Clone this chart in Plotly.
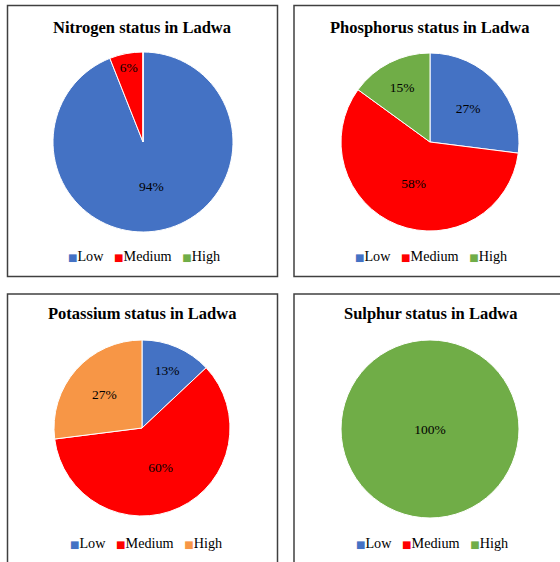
import plotly.graph_objects as go

categories = ["Low", "Medium", "High"]
nitrogen = [94, 6, 0]
phosphorus = [27, 58, 15]
potassium = [13, 60, 27]
sulphur = [0, 0, 100]
titles = ["Nitrogen status in Ladwa", "Phosphorus status in Ladwa",
          "Potassium status in Ladwa", "Sulphur status in Ladwa"]

W, H = 560, 562
BLUE, RED, GREEN, ORANGE = "#4472C4", "#FF0000", "#70AD47", "#F79646"
palettes = [[BLUE, RED, GREEN], [BLUE, RED, GREEN], [BLUE, RED, ORANGE], [BLUE, RED, GREEN]]
series = [nitrogen, phosphorus, potassium, sulphur]

# layout (pixels, top-left origin)
panels = [(7.5, 5.5, 277.5, 276.5), (294, 5.5, 575, 276.5), (7.5, 294, 277.5, 575), (294, 294, 575, 575)]
pies = [(143, 142, 90), (430, 142, 89), (142, 428, 88), (430, 429, 89)]
title_pos = [(142, 28), (429, 27), (142, 313), (430, 313)]
legend_pos = [(144, 256), (431, 256), (146, 543), (432, 543)]

px = lambda x: x / W
py = lambda y: 1 - y / H

FONT = "Liberation Serif"
fig = go.Figure()
shapes, annotations = [], []
for i in range(4):
    cx, cy, r = pies[i]
    fig.add_trace(go.Pie(
        labels=categories, values=series[i], sort=False, direction="clockwise", rotation=0,
        marker=dict(colors=palettes[i], line=dict(color="white", width=1)),
        textinfo="percent", textposition="inside", insidetextorientation="horizontal",
        textfont=dict(family=FONT, size=13.5, color="black"),
        domain=dict(x=[px(cx - r), px(cx + r)], y=[py(cy + r), py(cy - r)]),
        showlegend=False,
    ))
    x0, y0, x1, y1 = panels[i]
    shapes.append(dict(type="rect", xref="paper", yref="paper", x0=px(x0), x1=px(x1),
                       y0=py(y1), y1=py(y0), line=dict(color="#404040", width=1.5)))
    tx, ty = title_pos[i]
    annotations.append(dict(text=f"<b>{titles[i]}</b>", x=px(tx), y=py(ty), xref="paper", yref="paper",
                            showarrow=False, xanchor="center", yanchor="middle",
                            font=dict(family=FONT, size=16.5, color="black")))
    # legend row
    parts = []
    for lab, col in zip(categories, palettes[i]):
        parts.append(f'<span style="color:{col};font-family:DejaVu Sans;font-size:10px">\u25a0</span>{lab}')
    lx, ly = legend_pos[i]
    annotations.append(dict(text="\u00a0\u00a0\u00a0".join(parts), x=px(lx), y=py(ly), xref="paper", yref="paper",
                            showarrow=False, xanchor="center", yanchor="middle",
                            font=dict(family=FONT, size=14.2, color="black")))

fig.update_layout(width=W, height=H, margin=dict(l=0, r=0, t=0, b=0),
                  paper_bgcolor="white", plot_bgcolor="white",
                  shapes=shapes, annotations=annotations)
fig.write_html("out.html", config={"displayModeBar": False},
               post_script="document.body.style.margin='0';")
